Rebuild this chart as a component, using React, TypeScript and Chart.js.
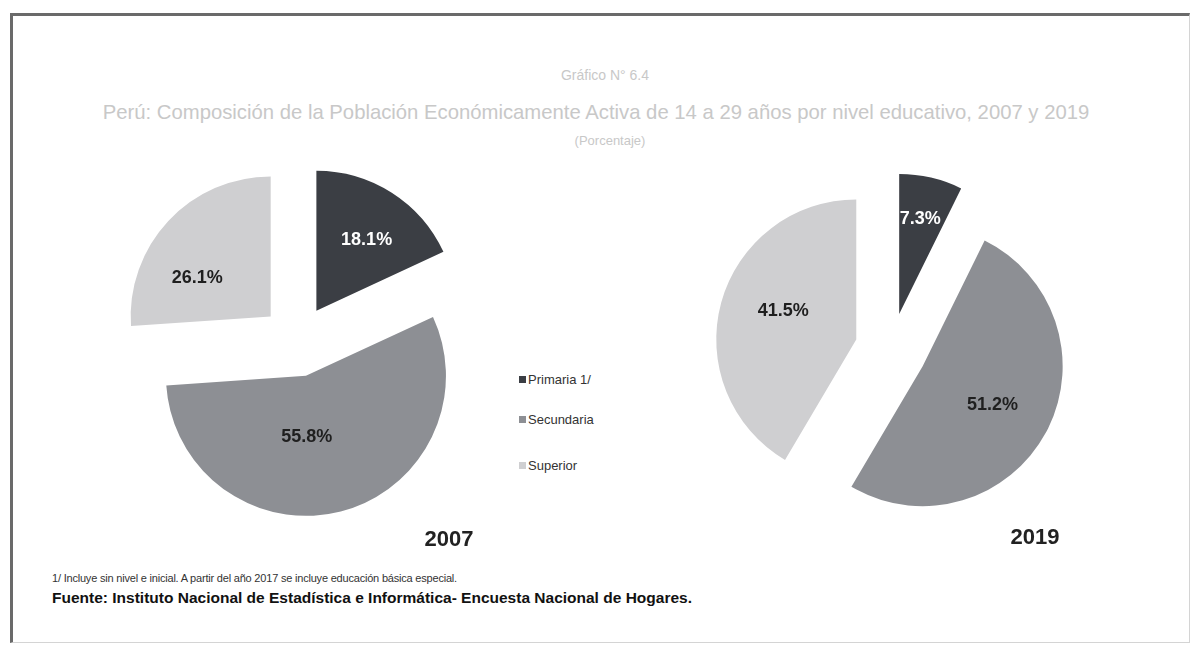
import React, { useEffect, useRef } from "react";
import { Chart, registerables } from "chart.js";

Chart.register(...registerables);

const categories = ["Primaria 1/", "Secundaria", "Superior"];
const values2007 = [18.1, 55.8, 26.1];
const values2019 = [7.3, 51.2, 41.5];
const years = ["2007", "2019"];
const sliceColors = ["#3b3e44", "#8d8f94", "#cfcfd1"];
const labelColors = ["#ffffff", "#1f1f1f", "#1f1f1f"];

const titleLines = [
  "Gráfico N° 6.4",
  "Perú: Composición de la Población Económicamente Activa de 14 a 29 años por nivel educativo, 2007 y 2019",
  "(Porcentaje)",
];
const footnote = "1/ Incluye sin nivel e inicial. A partir del año 2017 se incluye educación básica especial.";
const source = "Fuente: Instituto Nacional de Estadística e Informática- Encuesta Nacional de Hogares.";

const explodePlugin = {
  id: "explode",
  beforeDatasetDraw(chart: any, args: any, opts: any) {
    const d = opts.distance || 0;
    args.meta.data.forEach((arc: any) => {
      const mid = (arc.startAngle + arc.endAngle) / 2;
      arc.$bx = arc.x;
      arc.$by = arc.y;
      arc.x = arc.x + Math.cos(mid) * d;
      arc.y = arc.y + Math.sin(mid) * d;
    });
  },
  afterDatasetDraw(chart: any, args: any, opts: any) {
    const ctx = chart.ctx;
    const ds = chart.data.datasets[args.index];
    const nudges = opts.nudges || [];
    ctx.save();
    ctx.font = "bold 18px 'Liberation Sans', Arial, sans-serif";
    ctx.textAlign = "center";
    ctx.textBaseline = "middle";
    args.meta.data.forEach((arc: any, i: number) => {
      const mid = (arc.startAngle + arc.endAngle) / 2;
      const r = arc.outerRadius * (opts.labelFrac || 0.6);
      const n = nudges[i] || [0, 0];
      const x = arc.x + Math.cos(mid) * r + n[0];
      const y = arc.y + Math.sin(mid) * r + n[1];
      ctx.fillStyle = labelColors[i];
      ctx.fillText(ds.data[i].toFixed(1) + "%", x, y);
    });
    ctx.restore();
    args.meta.data.forEach((arc: any) => {
      arc.x = arc.$bx;
      arc.y = arc.$by;
    });
  },
};

function PieCanvas({ values, nudges, left, top }: { values: number[]; nudges: number[][]; left: number; top: number }) {
  const ref = useRef<HTMLCanvasElement | null>(null);
  useEffect(() => {
    if (!ref.current) return;
    const chart = new Chart(ref.current, {
      type: "pie",
      data: {
        labels: categories,
        datasets: [
          {
            data: values,
            backgroundColor: sliceColors,
            borderWidth: 0,
            radius: 140,
          } as any,
        ],
      },
      options: {
        responsive: false,
        animation: false,
        events: [],
        layout: { padding: 0 },
        plugins: {
          legend: { display: false },
          tooltip: { enabled: false },
          explode: { distance: 36, labelFrac: 0.6, nudges },
        } as any,
      },
      plugins: [explodePlugin as any],
    });
    return () => chart.destroy();
  }, []);
  return (
    <canvas
      ref={ref}
      width={400}
      height={400}
      style={{ position: "absolute", left, top, width: 400, height: 400 }}
    />
  );
}

const base: React.CSSProperties = { position: "absolute", whiteSpace: "nowrap" };

function CenterText({ text, cx, cy, size, color, bold }: any) {
  return (
    <div
      style={{
        ...base,
        left: cx - 600,
        width: 1200,
        top: cy - size,
        height: size * 2,
        lineHeight: size * 2 + "px",
        textAlign: "center",
        fontSize: size,
        color,
        fontWeight: bold ? "bold" : "normal",
      }}
    >
      {text}
    </div>
  );
}

export default function App() {
  const legendY = [380, 420, 466];
  return (
    <div
      style={{
        position: "fixed",
        left: 0,
        top: 0,
        width: 1198,
        height: 648,
        background: "#ffffff",
        overflow: "hidden",
        fontFamily: "'Liberation Sans', Arial, sans-serif",
      }}
    >
      <div
        style={{
          position: "absolute",
          left: 10,
          top: 13,
          width: 1176,
          height: 626,
          borderLeft: "3px solid #6a6a6a",
          borderTop: "3px solid #6a6a6a",
          borderRight: "1px solid #d4d4d4",
          borderBottom: "1px solid #d4d4d4",
        }}
      />
      <CenterText text={titleLines[0]} cx={605} cy={75} size={14} color="#c8c8c8" />
      <CenterText text={titleLines[1]} cx={596} cy={112} size={20.3} color="#c8c8c8" />
      <CenterText text={titleLines[2]} cx={610} cy={141} size={13} color="#c8c8c8" />

      <PieCanvas values={values2007} nudges={[[5, 0], [-20, -20], [-12, 19]]} left={97} top={141} />
      <PieCanvas values={values2019} nudges={[[2, -13], [-4, -1], [8, -6]]} left={691} top={149} />

      {categories.map((c, i) => (
        <div key={c} style={{ ...base, left: 519, top: legendY[i] - 9, height: 18, lineHeight: "18px", fontSize: 13, color: "#333" }}>
          <span
            style={{
              display: "inline-block",
              width: 7,
              height: 7,
              background: sliceColors[i],
              marginRight: 2,
              verticalAlign: "middle",
              position: "relative",
              top: -1,
            }}
          />
          {c}
        </div>
      ))}

      <CenterText text={years[0]} cx={449} cy={539} size={22} color="#222" bold />
      <CenterText text={years[1]} cx={1035} cy={537} size={22} color="#222" bold />

      <div style={{ ...base, left: 52, top: 570, height: 16, lineHeight: "16px", fontSize: 11, letterSpacing: -0.2, color: "#333" }}>
        {footnote}
      </div>
      <div style={{ ...base, left: 52, top: 589, height: 18, lineHeight: "18px", fontSize: 15.5, fontWeight: "bold", color: "#111" }}>
        {source}
      </div>
    </div>
  );
}
